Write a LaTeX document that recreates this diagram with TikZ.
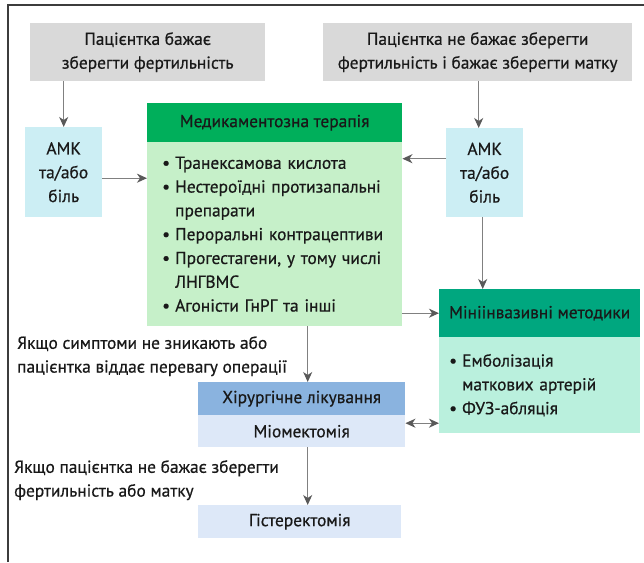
\documentclass[tikz,border=0pt]{standalone}
\usepackage{fontspec}
\setmainfont{PT Sans}
\newfontfamily\medfont{PT Sans}[FakeBold=0.6]
\usetikzlibrary{arrows.meta}

\definecolor{boxgray}{HTML}{D9D9D9}
\definecolor{amkblue}{HTML}{CCEEF4}
\definecolor{medhead}{HTML}{00AF5B}
\definecolor{medbody}{HTML}{C6F0C9}
\definecolor{minihead}{HTML}{00A77F}
\definecolor{minibody}{HTML}{BAF0DD}
\definecolor{surghead}{HTML}{8AB3DF}
\definecolor{surgbody}{HTML}{DDE8F8}
\definecolor{arrowgray}{HTML}{808080}
\definecolor{framegray}{HTML}{3C3C3C}

% bullet with fixed indent
\newcommand{\bul}{\makebox[13pt][l]{•}}
\newcommand{\ind}{\hspace*{13pt}}

\begin{document}
\begin{tikzpicture}[x=1pt,y=-1pt,
  box/.style={rectangle, inner sep=0pt, anchor=north west, text=black!90,
    font=\medfont\fontsize{17.4}{23.8}\selectfont},
  lbl/.style={inner sep=0pt, anchor=north west, align=left, text=black!90,
    font=\medfont\fontsize{17.4}{23.8}\selectfont},
  arr/.style={draw=arrowgray, line width=1.2pt,
    -{Stealth[length=10pt,width=9pt,inset=3pt,color=black!65]}},
  darr/.style={draw=arrowgray, line width=1.2pt,
    {Stealth[length=10pt,width=9pt,inset=3pt,color=black!65]}-{Stealth[length=10pt,width=9pt,inset=3pt,color=black!65]}}]
\useasboundingbox (0,0) rectangle (644,562);
\draw[framegray, line width=1.6pt] (8,562) -- (8,5) -- (644,5);

% top choices
\node[box, fill=boxgray, minimum width=235pt, minimum height=58pt, align=center] (keepfert) at (30,23) {Пацієнтка бажає\\зберегти фертильність};
\node[box, fill=boxgray, minimum width=309pt, minimum height=58pt, align=center] (keeputer) at (323,23) {Пацієнтка не бажає зберегти\\фертильність і бажає зберегти матку};

% symptoms
\node[box, fill=amkblue, minimum width=77pt, minimum height=90pt, align=center] (amkL) at (25,127) {АМК\\та/або\\біль};
\node[box, fill=amkblue, minimum width=77pt, minimum height=89pt, align=center] (amkR) at (446,128) {АМК\\та/або\\біль};

% medical therapy
\node[box, fill=medhead, minimum width=255pt, minimum height=39pt] (medhd) at (147,103) {Медикаментозна терапія};
\node[box, fill=medbody, minimum width=255pt, minimum height=184pt, inner xsep=15pt, text width=225pt, align=left] (medbd) at (147,142) {\bul Транексамова кислота\\\bul Нестероїдні протизапальні\\\ind препарати\\\bul Пероральні контрацептиви\\\bul Прогестагени, у тому числі\\\ind ЛНГВМС\\\bul Агоністи ГнРГ та інші};

% minimally invasive
\node[box, fill=minihead, minimum width=201pt, minimum height=48pt] (minihd) at (439,289) {Мініінвазивні методики};
\node[box, fill=minibody, minimum width=201pt, minimum height=96pt, inner xsep=10pt, text width=181pt, align=left] (minibd) at (439,337) {\bul Емболізація\\\ind маткових артерій\\\bul ФУЗ-абляція};

% surgery
\node[box, fill=surghead, minimum width=207pt, minimum height=33pt] (surghd) at (198,382) {Хірургічне лікування};
\node[box, fill=surgbody, minimum width=207pt, minimum height=32pt] (myoma) at (198,415) {Міомектомія};
\node[box, fill=surgbody, minimum width=203pt, minimum height=33pt] (hyster) at (198,505) {Гістеректомія};

% conditions
\node[lbl] (ifsympt) at (17,336) {Якщо симптоми не зникають або\\пацієнтка віддає перевагу операції};
\node[lbl] (ifnokeep) at (14,460) {Якщо пацієнтка не бажає зберегти\\фертильність або матку};

% arrows
\draw[arr] (keepfert.south -| amkL.north) -- (amkL.north);
\draw[arr] ([xshift=-6pt]keeputer.south -| amkR.north) -- ([xshift=-6pt]amkR.north);
\draw[arr] ([yshift=-6pt]amkL.east) -- ([yshift=-6pt]amkL.east -| medbd.west);
\draw[arr] ([yshift=14pt]amkR.west) -- ([yshift=14pt]amkR.west -| medbd.east);
\draw[arr] ([xshift=-2pt]amkR.south) -- ([xshift=-2pt]amkR.south |- minihd.north);
\draw[arr] (medbd.east |- minihd.west) -- (minihd.west);
\draw[arr] ([xshift=6pt]medbd.south -| surghd.north) -- ([xshift=6pt]surghd.north);
\draw[arr] ([xshift=6pt]myoma.south) -- ([xshift=6pt]myoma.south |- hyster.north);
\draw[darr] ([yshift=8pt]myoma.east) -- ([yshift=8pt]myoma.east -| minibd.west);
\end{tikzpicture}
\end{document}
